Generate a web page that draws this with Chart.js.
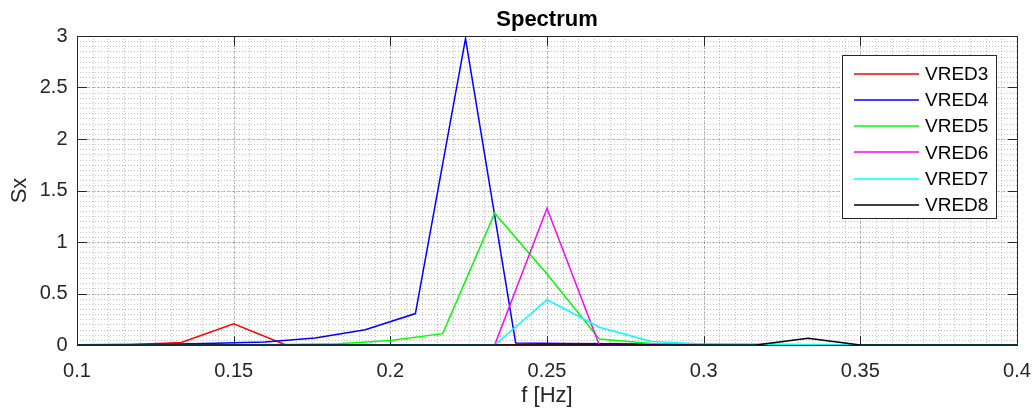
<!DOCTYPE html>
<html><head><meta charset="utf-8">
<script src="https://cdn.jsdelivr.net/npm/chart.js@4/dist/chart.umd.min.js"></script>
<style>html,body{margin:0;padding:0;background:#fff;overflow:hidden}</style>
</head><body>
<canvas id="c" width="1034" height="412"></canvas>
<script>
// ---- data ----
const freq60 = [0.1, 0.1167, 0.1333, 0.15, 0.1667, 0.1833, 0.2, 0.2167, 0.2333, 0.25, 0.2667, 0.2833, 0.3, 0.3167, 0.3333, 0.35, 0.3667, 0.3833, 0.4];
const freqVRED4 = [0.096, 0.112, 0.128, 0.144, 0.16, 0.176, 0.192, 0.208, 0.224, 0.24, 0.256, 0.272, 0.288, 0.304, 0.32, 0.336, 0.352, 0.368, 0.384, 0.4];
const VRED3 = [0, 0.002, 0.025, 0.205, 0, 0, 0, 0, 0, 0, 0, 0, 0, 0, 0, 0, 0, 0, 0];
const VRED4 = [0.002, 0.005, 0.008, 0.016, 0.03, 0.068, 0.148, 0.305, 2.975, 0.02, 0.015, 0.012, 0.008, 0.005, 0.004, 0.003, 0.002, 0.002, 0.001, 0.001];
const VRED5 = [0, 0, 0, 0.002, 0.005, 0.013, 0.043, 0.11, 1.28, 0.69, 0.058, 0.015, 0.005, 0.002, 0.001, 0, 0, 0, 0];
const VRED6 = [0, 0, 0, 0, 0, 0, 0, 0, 0, 1.327, 0, 0, 0, 0, 0, 0, 0, 0, 0];
const VRED7 = [0, 0, 0, 0, 0, 0, 0, 0, 0, 0.44, 0.172, 0.035, 0.01, 0.004, 0.002, 0.001, 0, 0, 0];
const VRED8 = [0, 0, 0, 0, 0, 0, 0, 0, 0, 0, 0, 0, 0, 0, 0.065, 0, 0, 0, 0];
const seriesNames = ['VRED3', 'VRED4', 'VRED5', 'VRED6', 'VRED7', 'VRED8'];
const seriesColors = ['#ff0000', '#0000ff', '#00ff00', '#ff00ff', '#00ffff', '#000000'];
const xTickValues = [0.1, 0.15, 0.2, 0.25, 0.3, 0.35, 0.4];
const yTickValues = [0, 0.5, 1, 1.5, 2, 2.5, 3];
const chartTitle = 'Spectrum';
const xLabel = 'f [Hz]';
const yLabel = 'Sx';

const FONT = "'Liberation Sans', Arial, Helvetica, sans-serif";
const INK = '#262626';
const TICKLEN = 9.4;

const seriesX = [freq60, freqVRED4, freq60, freq60, freq60, freq60];
const seriesY = [VRED3, VRED4, VRED5, VRED6, VRED7, VRED8];

const datasets = seriesNames.map((name, i) => ({
  label: name,
  data: seriesY[i].map((v, j) => ({x: seriesX[i][j], y: v})),
  borderColor: seriesColors[i],
  backgroundColor: seriesColors[i],
  borderWidth: 1.5,
  pointRadius: 0,
  tension: 0,
  fill: false,
  order: seriesNames.length - i
}));

const gridFramePlugin = {
  id: 'gridFrame',
  beforeDatasetsDraw(chart) {
    const {ctx, chartArea: a, scales: {x, y}} = chart;
    ctx.save();
    // minor grid
    ctx.lineWidth = 1;
    ctx.strokeStyle = 'rgba(38,38,38,0.27)';
    ctx.setLineDash([1, 2]);
    const xMinorStep = (xTickValues[1] - xTickValues[0]) / 10;
    const yMinorStep = (yTickValues[1] - yTickValues[0]) / 10;
    const nx = Math.round((x.max - x.min) / xMinorStep);
    for (let k = 1; k < nx; k++) {
      const px = Math.round(x.getPixelForValue(x.min + k * xMinorStep)) + 0.5;
      ctx.beginPath(); ctx.moveTo(px, a.top); ctx.lineTo(px, a.bottom); ctx.stroke();
    }
    const ny = Math.round((y.max - y.min) / yMinorStep);
    for (let k = 1; k < ny; k++) {
      const py = Math.round(y.getPixelForValue(y.min + k * yMinorStep)) + 0.5;
      ctx.beginPath(); ctx.moveTo(a.left, py); ctx.lineTo(a.right, py); ctx.stroke();
    }
    // major grid
    ctx.setLineDash([3, 2]);
    ctx.strokeStyle = 'rgba(38,38,38,0.25)';
    xTickValues.forEach(v => {
      const px = Math.round(x.getPixelForValue(v)) + 0.5;
      ctx.beginPath(); ctx.moveTo(px, a.top); ctx.lineTo(px, a.bottom); ctx.stroke();
    });
    yTickValues.forEach(v => {
      const py = Math.round(y.getPixelForValue(v)) + 0.5;
      ctx.beginPath(); ctx.moveTo(a.left, py); ctx.lineTo(a.right, py); ctx.stroke();
    });
    ctx.setLineDash([]);
    // frame and inward ticks
    ctx.strokeStyle = INK;
    ctx.lineWidth = 1;
    const L = Math.round(a.left) + 0.5, R = Math.round(a.right) + 0.5;
    const T = Math.round(a.top) + 0.5, B = Math.round(a.bottom) + 0.5;
    ctx.strokeRect(L, T, R - L, B - T);
    ctx.beginPath();
    xTickValues.forEach(v => {
      const px = Math.round(x.getPixelForValue(v)) + 0.5;
      ctx.moveTo(px, B); ctx.lineTo(px, B - TICKLEN);
      ctx.moveTo(px, T); ctx.lineTo(px, T + TICKLEN);
    });
    yTickValues.forEach(v => {
      const py = Math.round(y.getPixelForValue(v)) + 0.5;
      ctx.moveTo(L, py); ctx.lineTo(L + TICKLEN, py);
      ctx.moveTo(R, py); ctx.lineTo(R - TICKLEN, py);
    });
    ctx.stroke();
    ctx.restore();
  }
};

const legendPlugin = {
  id: 'boxLegend',
  afterDatasetsDraw(chart) {
    const {ctx} = chart;
    const bx = 842.5, by = 55.5, bw = 154, bh = 163;
    ctx.save();
    ctx.fillStyle = '#ffffff';
    ctx.fillRect(bx, by, bw, bh);
    ctx.strokeStyle = INK;
    ctx.lineWidth = 1;
    ctx.strokeRect(bx, by, bw, bh);
    ctx.font = '19px ' + FONT;
    ctx.textBaseline = 'middle';
    ctx.textAlign = 'left';
    chart.data.datasets.forEach((ds, i) => {
      const yy = 73.5 + i * 26.3;
      ctx.strokeStyle = ds.borderColor;
      ctx.lineWidth = 1.5;
      ctx.beginPath(); ctx.moveTo(854, Math.round(yy)); ctx.lineTo(919, Math.round(yy)); ctx.stroke();
      ctx.fillStyle = '#000000';
      ctx.fillText(ds.label, 925, yy + 1);
    });
    ctx.restore();
  }
};

new Chart(document.getElementById('c'), {
  type: 'line',
  data: {datasets},
  plugins: [gridFramePlugin, legendPlugin],
  options: {
    responsive: false,
    devicePixelRatio: 1,
    animation: false,
    events: [],
    layout: {padding: {left: 0, right: 17, top: 0, bottom: 0}},
    plugins: {
      legend: {display: false},
      tooltip: {enabled: false},
      title: {
        display: true,
        text: chartTitle,
        fullSize: false,
        color: '#000000',
        font: {family: FONT, size: 22, weight: 'bold', lineHeight: 1.2},
        padding: {top: 6.8, bottom: 2.8}
      }
    },
    scales: {
      x: {
        type: 'linear',
        min: 0.1, max: 0.4,
        grid: {display: false, drawTicks: false},
        border: {display: false},
        afterFit(s) { s.height = 67; s.paddingLeft = 0; s.paddingRight = 0; },
        afterBuildTicks(s) { s.ticks = xTickValues.map(v => ({value: v})); },
        ticks: {
          autoSkip: false, maxRotation: 0, minRotation: 0,
          padding: 14, color: INK,
          font: {family: FONT, size: 20},
          callback: v => String(Number(v.toFixed(2)))
        },
        title: {display: true, text: xLabel, color: INK, font: {family: FONT, size: 22}, padding: {top: 0, bottom: 3}}
      },
      y: {
        type: 'linear',
        min: 0, max: 3,
        grid: {display: false, drawTicks: false},
        border: {display: false},
        afterFit(s) { s.width = 77; s.paddingTop = 0; s.paddingBottom = 0; },
        afterBuildTicks(s) { s.ticks = yTickValues.map(v => ({value: v})); },
        ticks: {
          autoSkip: false, padding: 9.5, color: INK,
          font: {family: FONT, size: 20},
          callback: v => String(Number(v.toFixed(2)))
        },
        title: {display: true, text: yLabel, color: INK, font: {family: FONT, size: 22}, padding: {top: 7, bottom: 0}}
      }
    }
  }
});
</script>
</body></html>
